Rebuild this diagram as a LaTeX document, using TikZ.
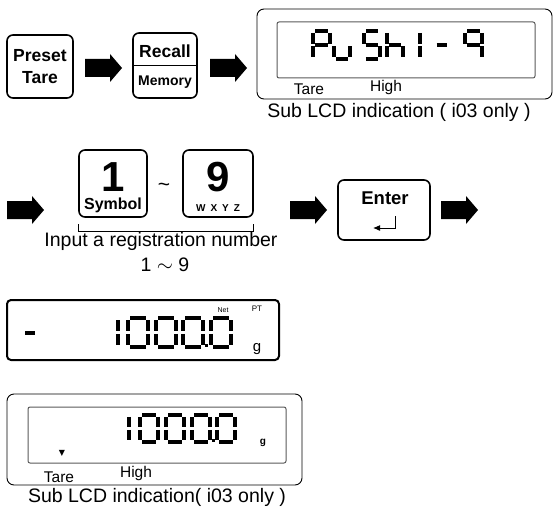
\documentclass[tikz,border=0pt]{standalone}
\usepackage{fontspec}
\setmainfont{Liberation Sans}
\newfontfamily\symfont{DejaVu Sans}
\usetikzlibrary{arrows.meta, positioning, calc}

% 7-segment cell: [style] {top left} {width} {height} {segments}
\newcommand\segdigit[5][]{%
  \begin{scope}[shift={#2}, xscale=#3, yscale=#4]
    \coordinate (a1) at (0.12,0);    \coordinate (a2) at (0.88,0);
    \coordinate (b1) at (1,0.07);    \coordinate (b2) at (1,0.45);
    \coordinate (c1) at (1,0.55);    \coordinate (c2) at (1,0.93);
    \coordinate (d1) at (0.12,1);    \coordinate (d2) at (0.88,1);
    \coordinate (e1) at (0,0.55);    \coordinate (e2) at (0,0.93);
    \coordinate (f1) at (0,0.07);    \coordinate (f2) at (0,0.45);
    \coordinate (g1) at (0.12,0.5);  \coordinate (g2) at (0.88,0.5);
    \foreach \s in {#5} \draw[lcdseg, #1] (\s1) -- (\s2);
  \end{scope}}

\tikzset{
  keybox/.style={draw, line width=1.6pt, rounded corners=6pt, inner sep=0pt},
  lcdouter/.style={draw, line width=0.9pt, rounded corners=7pt},
  lcdinner/.style={draw=black!65, line width=1pt, rounded corners=2pt},
  lcdseg/.style={line width=3.5pt, line cap=butt},
  blockarrow/.pic={\fill (0,-9) -- (25,-9) -- (25,-14) -- (37,0) -- (25,14) -- (25,9) -- (0,9) -- cycle;}
}

\begin{document}
\begin{tikzpicture}[x=1pt, y=-1pt, every node/.style={inner sep=0pt}]
  \useasboundingbox (0,0) rectangle (553,508);

  % row 1
  \node[keybox, minimum width=66pt, minimum height=63pt, align=center,
        font=\bfseries\fontsize{17.5}{22}\selectfont] (preset) at (40,66.5) {Preset\\Tare};
  \pic at (85,68) {blockarrow};
  \node[keybox, minimum width=64pt, minimum height=65pt] (recall) at (165,65.5) {};
  \draw[line width=1.2pt] (recall.west) -- (recall.east);
  \node[font=\bfseries\fontsize{17.5}{20}\selectfont] (recalltxt) at (165,51) {Recall};
  \node[font=\bfseries\fontsize{14}{16}\selectfont] (memorytxt) at (165,82) {Memory};
  \pic at (210,68) {blockarrow};

  \node[lcdouter, minimum width=295pt, minimum height=90pt] (sublcd) at (404.5,54) {};
  \node[lcdinner, minimum width=258pt, minimum height=56pt] (sublcdin) at (406,50) {};
  \segdigit{(313,31)}{17}{28}{a,b,f,g,e}
  \segdigit{(334,31)}{16}{28}{e,d,c}
  \segdigit{(364,31)}{16}{28}{a,f,g,c,d}
  \segdigit{(387,31)}{16}{28}{f,e,g,c}
  \segdigit{(420,31)}{16}{28}{f,e}
  \segdigit{(435,31)}{14}{28}{g}
  \segdigit{(465,31)}{17}{28}{a,b,c,f,g}
  \node[font=\fontsize{15.5}{17}\selectfont] (taretop) at (309,89) {Tare};
  \node[font=\fontsize{15.5}{17}\selectfont] (hightop) at (386,87) {High};
  \node[font=\fontsize{19.5}{22}\selectfont] (subcap1) at (399,112) {Sub LCD indication ( i03 only )};

  % row 2
  \pic at (7,210) {blockarrow};
  \node[keybox, minimum width=68pt, minimum height=67pt] (key1) at (113,183.5) {};
  \node[font=\bfseries\fontsize{42}{44}\selectfont] (onetxt) at (113,177) {1};
  \node[font=\bfseries\fontsize{16}{18}\selectfont] (symtxt) at (113,205) {Symbol};
  \node[font=\fontsize{21}{22}\selectfont] (tilde) at (164,187) {\textasciitilde};
  \node[keybox, minimum width=70pt, minimum height=67pt] (key9) at (218,183.5) {};
  \node[font=\bfseries\fontsize{42}{44}\selectfont] (ninetxt) at (218,177) {9};
  \node[font=\bfseries\fontsize{10}{12}\selectfont] (wxyz) at (218,208) {W\hspace{5pt}X\hspace{5pt}Y\hspace{5pt}Z};
  \draw[line width=1pt] (key1.west |- 0,224) -- (key1.west |- 0,231) -- (key9.east |- 0,231) -- (key9.east |- 0,224);
  \node[font=\fontsize{19.5}{22}\selectfont] (inputtxt) at (161,241) {Input a registration number};
  \node[font=\fontsize{19.5}{22}\selectfont] (rangetxt) at (165,265) {1 $\sim$ 9};
  \pic at (290,210) {blockarrow};
  \node[keybox, minimum width=92pt, minimum height=60pt] (enter) at (384,210) {};
  \node[font=\bfseries\fontsize{18.5}{20}\selectfont] (entertxt) at (385,198) {Enter};
  \coordinate (ret) at (395,216);
  \draw[line width=1pt, -{Latex[length=7pt, width=6pt]}] (ret) |- (373,228);
  \pic at (441,210) {blockarrow};

  % row 3
  \node[draw, line width=2pt, rounded corners=4pt, minimum width=272pt, minimum height=60pt] (mainlcd) at (143,330) {};
  \segdigit[line width=4pt]{(24,319)}{12}{28}{g}
  \segdigit[line width=4.2pt]{(97,318)}{21}{29}{b,c}
  \segdigit[line width=4.2pt]{(128,318)}{20}{29}{a,b,c,d,e,f}
  \segdigit[line width=4.2pt]{(156,318)}{20}{29}{a,b,c,d,e,f}
  \segdigit[line width=4.2pt]{(183,318)}{20}{29}{a,b,c,d,e,f}
  \fill (204.5,343.5) rectangle +(3.5,3.5);
  \segdigit[line width=4.2pt]{(211,318)}{20}{29}{a,b,c,d,e,f}
  \node[font=\fontsize{7}{8}\selectfont] (nettxt) at (223,310) {Net};
  \node[font=\fontsize{8}{9}\selectfont] (pttxt) at (257,309) {PT};
  \node[font=\fontsize{15}{17}\selectfont] (gmain) at (257,349) {g};

  % row 4
  \node[lcdouter, minimum width=295pt, minimum height=91pt] (mainsub) at (154.5,439.5) {};
  \node[lcdinner, minimum width=258pt, minimum height=56pt] (mainsubin) at (157,435) {};
  \segdigit[line width=3.8pt]{(111,415)}{18}{27}{b,c}
  \segdigit[line width=3.8pt]{(140,415)}{18}{27}{a,b,c,d,e,f}
  \segdigit[line width=3.8pt]{(166,415)}{18}{27}{a,b,c,d,e,f}
  \segdigit[line width=3.8pt]{(192,415)}{18}{27}{a,b,c,d,e,f}
  \fill (211.5,438.5) rectangle +(3,3);
  \segdigit[line width=3.8pt]{(217,415)}{18}{27}{a,b,c,d,e,f}
  \node[font=\bfseries\fontsize{10}{12}\selectfont] (gsub) at (263,443) {g};
  \node[font=\symfont\fontsize{8}{9}\selectfont] (tarmark) at (62,453) {▼};
  \node[font=\fontsize{15.5}{17}\selectfont] (taresub) at (59,477) {Tare};
  \node[font=\fontsize{15.5}{17}\selectfont] (highsub) at (136,473) {High};
  \node[font=\fontsize{19.5}{22}\selectfont] (subcap2) at (157,497) {Sub LCD indication( i03 only )};
\end{tikzpicture}
\end{document}
